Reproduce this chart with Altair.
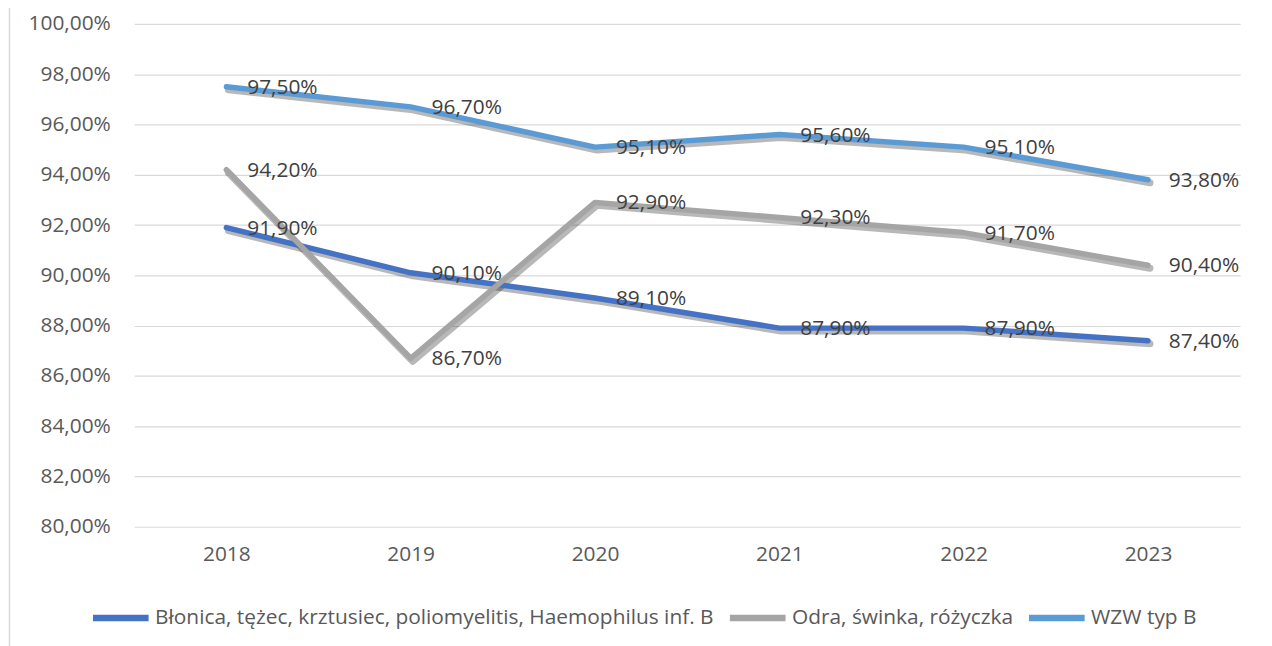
import altair as alt
import pandas as pd

years = ["2018", "2019", "2020", "2021", "2022", "2023"]
series_names = [
    "Błonica, tężec, krztusiec, poliomyelitis, Haemophilus inf. B",
    "Odra, świnka, różyczka",
    "WZW typ B",
]
blonica = [91.9, 90.1, 89.1, 87.9, 87.9, 87.4]
odra = [94.2, 86.7, 92.9, 92.3, 91.7, 90.4]
wzw = [97.5, 96.7, 95.1, 95.6, 95.1, 93.8]
colors = ["#4472C4", "#A5A5A5", "#5B9BD5"]
y_ticks = [80, 82, 84, 86, 88, 90, 92, 94, 96, 98, 100]

rows = []
for name, vals in zip(series_names, [blonica, odra, wzw]):
    for yr, v in zip(years, vals):
        rows.append({"year": yr, "series": name, "value": v,
                     "label": f"{v:.2f}".replace(".", ",") + "%"})
df = pd.DataFrame(rows)

FONT = "Open Sans"
FS = 21

x_enc = alt.X("year:N", sort=years, title=None,
              scale=alt.Scale(type="point", padding=0.5),
              axis=alt.Axis(labelAngle=0, labelFont=FONT, labelFontSize=FS,
                            labelColor="#595959", labelPadding=17,
                            domain=False, ticks=False, grid=False))
y_enc = alt.Y("value:Q", title=None,
              scale=alt.Scale(domain=[80, 100], nice=False, zero=False),
              axis=alt.Axis(values=y_ticks,
                            labelExpr="replace(format(datum.value, '.2f'), '.', ',') + '%'",
                            labelFont=FONT, labelFontSize=FS, labelColor="#595959",
                            labelPadding=24, domain=False, ticks=False,
                            grid=True, gridColor="#D9D9D9", gridWidth=1.2))

base = alt.Chart(df)

shadow = base.mark_line(strokeWidth=7, strokeCap="round", strokeJoin="round",
                        color="black", opacity=0.28, xOffset=2, yOffset=3).encode(
    x=x_enc, y=y_enc, detail="series:N")

lines = base.mark_line(strokeWidth=5.5, strokeCap="round", strokeJoin="round").encode(
    x=x_enc, y=y_enc,
    color=alt.Color("series:N", sort=series_names,
                    scale=alt.Scale(domain=series_names, range=colors),
                    legend=alt.Legend(title=None, orient="none", direction="horizontal",
                                      legendX=-45, legendY=566,
                                      symbolType="stroke", symbolSize=3136,
                                      symbolStrokeWidth=6.5, labelFont=FONT,
                                      labelFontSize=FS, labelColor="#595959",
                                      labelOffset=3, columnPadding=2,
                                      labelLimit=1000)),
)

labels = base.mark_text(align="left", baseline="middle", dx=21, dy=1,
                        font=FONT, fontSize=FS, color="#404040").encode(
    x=x_enc, y=y_enc, text="label:N")

frame = alt.Chart(pd.DataFrame({"v": [0]})).mark_rule(color="#D9D9D9", strokeWidth=1.5).encode(
    x=alt.value(-125.5), y=alt.value(-30), y2=alt.value(640))

chart = alt.layer(frame, shadow, lines, labels).properties(
    width=1113, height=506,
    padding={"left": 127, "top": 14, "right": 24, "bottom": 118},
    autosize=alt.AutoSizeParams(type="none"),
).configure_view(stroke=None)

chart.save("out.html", embed_options={"renderer": "svg", "actions": False})
